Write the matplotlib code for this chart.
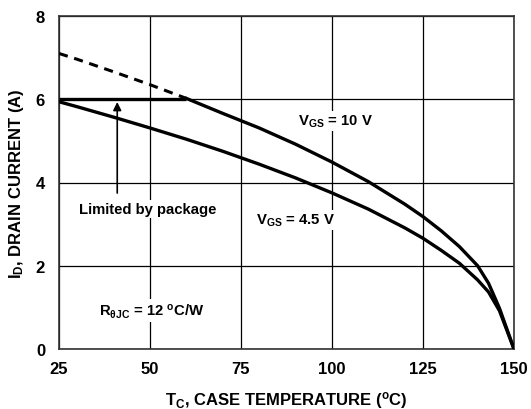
import matplotlib
matplotlib.use("Agg")
import matplotlib.pyplot as plt

plt.rcParams['font.family'] = ['Liberation Sans', 'DejaVu Sans']
plt.rcParams['font.weight'] = 'bold'
plt.rcParams['mathtext.fontset'] = 'custom'
plt.rcParams['mathtext.rm'] = 'Liberation Sans:bold'
plt.rcParams['mathtext.bf'] = 'Liberation Sans:bold'
plt.rcParams['mathtext.it'] = 'Liberation Sans:bold'
plt.rcParams['mathtext.sf'] = 'Liberation Sans:bold'
plt.rcParams['mathtext.default'] = 'bf'

# Case temperature (°C)
temp = [25, 30, 40, 50, 60, 70, 80, 90, 100, 110, 120, 125, 130, 135, 140, 143, 144, 146, 150]
# VGS = 10 V curve (thermal limit), A
id_10v = [7.10, 6.96, 6.66, 6.35, 6.02, 5.66, 5.31, 4.92, 4.49, 4.02, 3.48, 3.18, 2.84, 2.46, 2.00, 1.58, 1.38, 0.98, 0.0]
# VGS = 4.5 V curve, A
id_45v = [5.94, 5.82, 5.57, 5.31, 5.04, 4.75, 4.44, 4.11, 3.75, 3.36, 2.91, 2.66, 2.37, 2.06, 1.66, 1.37, 1.22, 0.92, 0.0]
package_limit = 6.0
package_end_temp = 60

xticks = [25, 50, 75, 100, 125, 150]
yticks = [0, 2, 4, 6, 8]

fig = plt.figure(figsize=(5.31, 4.10), dpi=100)
ax = fig.add_axes([59/531, 60/410, 455/531, 333/410])

t_lim = [t for t in temp if t <= package_end_temp]
i_lim = [id_10v[k] for k, t in enumerate(temp) if t <= package_end_temp]
t_hi = [t for t in temp if t >= package_end_temp]
i_hi = [id_10v[k] for k, t in enumerate(temp) if t >= package_end_temp]

ax.plot(t_lim, i_lim, color='black', lw=2.2, ls=(0, (3, 2.2)), zorder=3)
ax.plot([temp[0], package_end_temp], [package_limit, package_limit], color='black', lw=2.4, zorder=3, solid_capstyle='butt')
ax.plot(t_hi, i_hi, color='black', lw=2.4, zorder=3)
ax.plot(temp, id_45v, color='black', lw=2.4, zorder=3)

ax.set_xlim(25, 150)
ax.set_ylim(0, 8)
ax.set_xticks(xticks)
ax.set_yticks(yticks)
ax.tick_params(axis='x', length=0, labelsize=12, pad=9)
ax.tick_params(axis='y', length=0, labelsize=12, pad=10)
for lbl in ax.get_xticklabels() + ax.get_yticklabels():
    lbl.set_fontweight('bold')
ax.grid(True, color='black', lw=0.9)
ax.set_axisbelow(True)
for s in ax.spines.values():
    s.set_linewidth(1.2)
    s.set_color('#333333')

ax.set_xlabel(r'T$_\mathregular{C}$, CASE TEMPERATURE ($^\mathregular{o}$C)', fontsize=12, fontweight='bold', labelpad=9)
ax.set_ylabel(r'I$_\mathregular{D}$, DRAIN CURRENT (A)', fontsize=12, fontweight='bold', labelpad=7)

bbox = dict(facecolor='white', edgecolor='none', pad=1.5)
ax.annotate('', xy=(41, package_limit), xytext=(41, 3.68),
            arrowprops=dict(arrowstyle='-|>', color='black', lw=1.2, mutation_scale=12), zorder=4)
ax.text(49.5, 3.37, 'Limited by package', ha='center', va='center', fontsize=10.7, fontweight='bold', bbox=bbox, zorder=5)
ax.text(101, 5.48, r'V$_\mathregular{GS}$ = 10 V', ha='center', va='center', fontsize=10.7, fontweight='bold', bbox=bbox, zorder=5)
ax.text(90, 3.1, r'V$_\mathregular{GS}$ = 4.5 V', ha='center', va='center', fontsize=10.7, fontweight='bold', bbox=bbox, zorder=5)
ax.text(50.6, 0.92, r'R$_\mathregular{\theta JC}$ = 12 $^\mathregular{o}$C/W', ha='center', va='center', fontsize=10.7, fontweight='bold', bbox=bbox, zorder=5)

fig.savefig('out.png', dpi=100)
